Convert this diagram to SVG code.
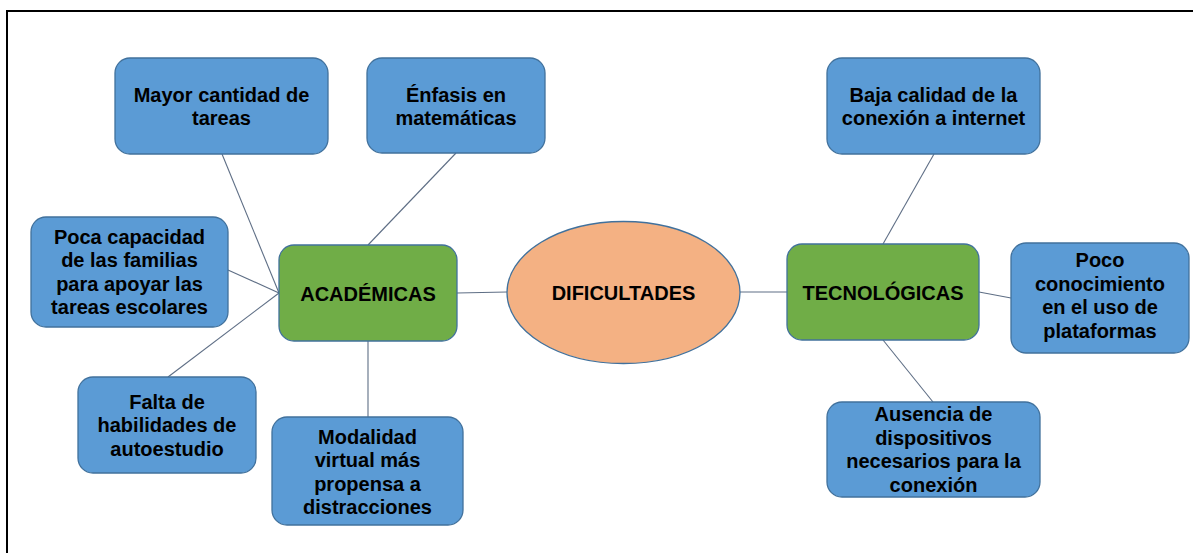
<svg xmlns="http://www.w3.org/2000/svg" width="1193" height="553" viewBox="0 0 1193 553">
<style>
.box{fill:#5b9bd5;stroke:#41719c;stroke-width:1.3}
.grn{fill:#70ad47;stroke:#41719c;stroke-width:1.3}
.ell{fill:#f4b183;stroke:#41719c;stroke-width:1.3}
.t{font-family:"Liberation Sans",Arial,sans-serif;font-weight:bold;font-size:20px;fill:#000;text-anchor:middle}
.c line{stroke:#5e6e85;stroke-width:1.1}
</style>
<rect x="0" y="0" width="1193" height="553" fill="#fff"/>
<rect x="7" y="11" width="1200" height="560" fill="none" stroke="#000" stroke-width="2"/>
<g class="c" id="connectors">
<line x1="222" y1="154" x2="279" y2="293"/>
<line x1="456" y1="153" x2="368" y2="245"/>
<line x1="228" y1="270" x2="279" y2="293"/>
<line x1="168" y1="377" x2="279" y2="293"/>
<line x1="368" y1="341" x2="368" y2="417"/>
<line x1="457" y1="293" x2="507" y2="292"/>
<line x1="740" y1="292" x2="787" y2="292"/>
<line x1="934" y1="154" x2="883" y2="244"/>
<line x1="979" y1="292" x2="1011" y2="298"/>
<line x1="883" y1="340" x2="933" y2="402"/>
</g>
<g id="n-mayor"><rect class="box" x="115" y="58" width="213" height="96" rx="15"/>
<text class="t" x="221.5" y="101.5">Mayor cantidad de</text><text class="t" x="221.5" y="125">tareas</text></g>
<g id="n-enfasis"><rect class="box" x="367" y="58" width="178" height="95" rx="15"/>
<text class="t" x="456" y="101.5">Énfasis en</text><text class="t" x="456" y="125">matemáticas</text></g>
<g id="n-baja"><rect class="box" x="827" y="58" width="213" height="96" rx="15"/>
<text class="t" x="933.5" y="101.5">Baja calidad de la</text><text class="t" x="933.5" y="125">conexión a internet</text></g>
<g id="n-poca"><rect class="box" x="31" y="217" width="197" height="110" rx="15"/>
<text class="t" x="129.5" y="243.5">Poca capacidad</text><text class="t" x="129.5" y="267">de las familias</text><text class="t" x="129.5" y="290.5">para apoyar las</text><text class="t" x="129.5" y="314">tareas escolares</text></g>
<g id="n-falta"><rect class="box" x="78" y="377" width="178" height="96" rx="15"/>
<text class="t" x="167" y="408.5">Falta de</text><text class="t" x="167" y="432">habilidades de</text><text class="t" x="167" y="455.5">autoestudio</text></g>
<g id="n-academicas"><rect class="grn" x="279" y="245" width="178" height="96" rx="15"/>
<text class="t" x="368" y="300.5">ACADÉMICAS</text></g>
<g id="n-dificultades"><ellipse class="ell" cx="623.5" cy="292.5" rx="116.5" ry="71"/>
<text class="t" x="623.5" y="299.5">DIFICULTADES</text></g>
<g id="n-tecnologicas"><rect class="grn" x="787" y="244" width="192" height="96" rx="15"/>
<text class="t" x="883" y="299.5">TECNOLÓGICAS</text></g>
<g id="n-poco"><rect class="box" x="1011" y="243" width="178" height="110" rx="15"/>
<text class="t" x="1100" y="267">Poco</text><text class="t" x="1100" y="290.5">conocimiento</text><text class="t" x="1100" y="314">en el uso de</text><text class="t" x="1100" y="337.5">plataformas</text></g>
<g id="n-modalidad"><rect class="box" x="272" y="417" width="191" height="108" rx="15"/>
<text class="t" x="367.5" y="443.5">Modalidad</text><text class="t" x="367.5" y="467">virtual más</text><text class="t" x="367.5" y="490.5">propensa a</text><text class="t" x="367.5" y="514">distracciones</text></g>
<g id="n-ausencia"><rect class="box" x="827" y="402" width="213" height="95" rx="15"/>
<text class="t" x="933.5" y="421">Ausencia de</text><text class="t" x="933.5" y="444.5">dispositivos</text><text class="t" x="933.5" y="468">necesarios para la</text><text class="t" x="933.5" y="491.5">conexión</text></g>
</svg>
